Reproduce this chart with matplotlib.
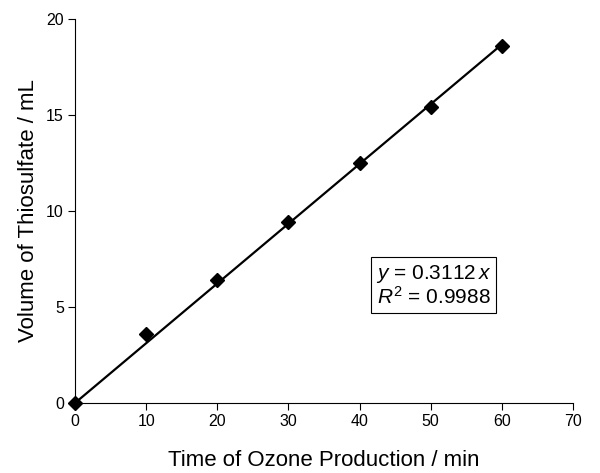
import matplotlib
matplotlib.use("Agg")
import matplotlib.pyplot as plt
import numpy as np

plt.rcParams["font.family"] = ["Liberation Sans", "DejaVu Sans"]
plt.rcParams["mathtext.fontset"] = "custom"
plt.rcParams["mathtext.rm"] = "Liberation Sans"
plt.rcParams["mathtext.it"] = "Liberation Sans:italic"

# data
time_min = [0, 10, 20, 30, 40, 50, 60]
thiosulfate_ml = [0.0, 3.6, 6.4, 9.4, 12.5, 15.4, 18.6]
slope = 0.3112
r_squared = 0.9988
x_ticks = [0, 10, 20, 30, 40, 50, 60, 70]
y_ticks = [0, 5, 10, 15, 20]

fig = plt.figure(figsize=(6.0, 4.73), dpi=100)
ax = fig.add_axes([0.125, 0.148, 0.83, 0.812])

fit_x = np.array([time_min[0], time_min[-1]])
ax.plot(fit_x, slope * fit_x, color="black", linewidth=1.6, zorder=2)
ax.plot(time_min, thiosulfate_ml, linestyle="none", marker="D",
        markersize=7, color="black", zorder=3, clip_on=False)

ax.set_xlim(0, 70)
ax.set_ylim(0, 20)
ax.set_xticks(x_ticks)
ax.set_yticks(y_ticks)
ax.tick_params(direction="out", length=5, width=0.8, labelsize=11.5, pad=3)
for side in ["top", "right"]:
    ax.spines[side].set_visible(False)
for side in ["left", "bottom"]:
    ax.spines[side].set_linewidth(0.8)

ax.set_xlabel("Time of Ozone Production / min", fontsize=16, labelpad=15)
ax.set_ylabel("Volume of Thiosulfate / mL", fontsize=16, labelpad=5)

ax.text(50.4, 6.1,
        "$y$ = {:.4f}$\\,x$\n$R^2$ = {:.4f}".format(slope, r_squared),
        ha="center", va="center", multialignment="center",
        fontsize=15, linespacing=1.05,
        bbox=dict(boxstyle="square,pad=0.22", facecolor="white",
                  edgecolor="black", linewidth=0.8))

fig.savefig("out.png", dpi=100)
